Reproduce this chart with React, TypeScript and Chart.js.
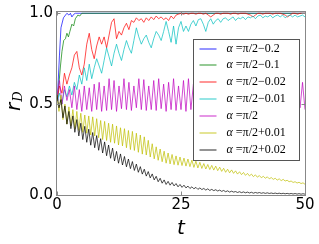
import { useEffect, useRef } from "react";
import { Chart, registerables } from "chart.js";
Chart.register(...registerables);

const T_HALF = [
  0, 0.5, 1, 1.5, 2, 2.5, 3, 3.5, 4, 4.5, 5, 5.5, 6, 6.5, 7, 7.5, 8, 8.5, 9, 9.5,
  10, 10.5, 11, 11.5, 12, 12.5, 13, 13.5, 14, 14.5, 15, 15.5, 16, 16.5, 17, 17.5, 18, 18.5, 19, 19.5,
  20, 20.5, 21, 21.5, 22, 22.5, 23, 23.5, 24, 24.5, 25, 25.5, 26, 26.5, 27, 27.5, 28, 28.5, 29, 29.5,
  30, 30.5, 31, 31.5, 32, 32.5, 33, 33.5, 34, 34.5, 35, 35.5, 36, 36.5, 37, 37.5, 38, 38.5, 39, 39.5,
  40, 40.5, 41, 41.5, 42, 42.5, 43, 43.5, 44, 44.5, 45, 45.5, 46, 46.5, 47, 47.5, 48, 48.5, 49, 49.5,
  50,
];

const T_FINE = [
  0, 0.4, 0.8, 1.2, 1.6, 2, 2.4, 2.8, 3.2, 3.6,
  4, 4.4, 4.8, 5.2, 5.6, 6, 6.4, 6.8, 7.2, 7.6,
  8, 8.4, 8.8, 9.2, 9.6, 10, 10.4, 10.8, 11.2, 11.6,
  12, 12.4, 12.8, 13.2, 13.6, 14, 14.4, 14.8, 15.2, 15.6,
  16, 16.4, 16.8, 17.2, 17.6, 18, 18.4, 18.8, 19.2, 19.6,
  20, 20.4, 20.8, 21.2, 21.6, 22, 22.4, 22.8, 23.2, 23.6,
  24, 24.4, 24.8, 25.2, 25.6, 26, 26.4, 26.8, 27.2, 27.6,
  28, 28.4, 28.8, 29.2, 29.6, 30, 30.4, 30.8, 31.2, 31.6,
  32, 32.4, 32.8, 33.2, 33.6, 34, 34.4, 34.8, 35.2, 35.6,
  36, 36.4, 36.8, 37.2, 37.6, 38, 38.4, 38.8, 39.2, 39.6,
  40, 40.4, 40.8, 41.2, 41.6, 42, 42.4, 42.8, 43.2, 43.6,
  44, 44.4, 44.8, 45.2, 45.6, 46, 46.4, 46.8, 47.2, 47.6,
  48, 48.4, 48.8, 49.2, 49.6, 50,
];

const BLUE_T = [0, 0.2, 0.5, 0.8, 1.3, 2.0, 2.4, 2.7, 3.0, 3.4, 3.7, 50];
const BLUE = [0.52, 0.6, 0.77, 0.92, 0.975, 1.0, 0.99, 1.0, 0.98, 0.995, 1.0, 1.0];

const GREEN_T = [0, 0.35, 0.7, 1.0, 1.35, 1.7, 2.0, 2.3, 2.6, 3.0, 3.35, 3.7, 4.2, 4.6, 5.0, 50];
const GREEN = [0.52, 0.6, 0.71, 0.79, 0.85, 0.86, 0.89, 0.87, 0.9, 0.94, 0.93, 0.97, 0.99, 0.985, 1.0, 1.0];

const RED = [
  0.52, 0.6, 0.56, 0.67, 0.61, 0.66, 0.7, 0.77, 0.79, 0.7,
  0.66, 0.72, 0.83, 0.89, 0.8, 0.75, 0.82, 0.87, 0.83, 0.87,
  0.81, 0.88, 0.95, 0.97, 0.86, 0.9, 0.88, 0.92, 0.945, 0.91,
  0.96, 0.95, 0.975, 0.96, 0.97, 0.95, 0.975, 0.96, 0.98, 0.965,
  0.985, 0.97, 0.98, 0.965, 0.975, 0.96, 0.985, 0.97, 0.99, 0.995,
  1.0, 0.995, 1.0, 0.995, 1.0, 1.0, 0.995, 1.0, 1.0, 0.995,
  1.0, 0.99, 0.98, 0.99, 1.0, 1.0, 0.995, 1.0, 1.0, 1.0,
  0.995, 1.0, 1.0, 0.995, 1.0, 1.0, 1.0, 0.995, 0.99, 0.98,
  0.99, 1.0, 1.0, 0.995, 1.0, 1.0, 1.0, 0.995, 1.0, 1.0,
  1.0, 0.995, 0.99, 0.98, 0.99, 1.0, 1.0, 0.995, 1.0, 1.0,
  1.0,
];

const CYAN = [
  0.52, 0.56, 0.5, 0.58, 0.54, 0.6, 0.55, 0.62, 0.58, 0.66,
  0.61, 0.7, 0.63, 0.72, 0.64, 0.7, 0.75, 0.71, 0.67, 0.74,
  0.81, 0.76, 0.71, 0.78, 0.83, 0.78, 0.74, 0.8, 0.85, 0.81,
  0.78, 0.85, 0.92, 0.87, 0.83, 0.86, 0.88, 0.84, 0.81, 0.86,
  0.9, 0.88, 0.85, 0.9, 0.955, 0.9, 0.84, 0.93, 0.83, 0.92,
  0.955, 0.9, 0.93, 0.9, 0.94, 0.96, 0.93, 0.965, 0.97, 0.94,
  0.9, 0.95, 0.97, 0.94, 0.96, 0.97, 0.95, 0.97, 0.975, 0.96,
  0.97, 0.98, 0.96, 0.975, 0.97, 0.98, 0.965, 0.98, 0.975, 0.985,
  0.97, 0.985, 0.99, 0.975, 0.985, 0.98, 0.99, 0.975, 0.985, 0.99,
  0.98, 0.99, 0.975, 0.985, 0.99, 0.98, 0.99, 0.98, 0.985, 0.99,
  0.98,
];

const MAGENTA = [
  0.55, 0.63, 0.5, 0.6, 0.52, 0.58, 0.48, 0.6, 0.47, 0.58,
  0.46, 0.6, 0.47, 0.59, 0.46, 0.61, 0.47, 0.62, 0.46, 0.6,
  0.465, 0.64, 0.47, 0.63, 0.46, 0.6, 0.475, 0.64, 0.47, 0.62,
  0.465, 0.6, 0.48, 0.64, 0.47, 0.635, 0.465, 0.6, 0.47, 0.63,
  0.465, 0.64, 0.475, 0.61, 0.46, 0.62, 0.47, 0.64, 0.465, 0.6,
  0.47, 0.63, 0.46, 0.64, 0.47, 0.61, 0.465, 0.62, 0.47, 0.64,
  0.465, 0.6, 0.475, 0.63, 0.46, 0.64, 0.47, 0.61, 0.465, 0.62,
  0.47, 0.64, 0.465, 0.6, 0.47, 0.63, 0.46, 0.64, 0.47, 0.61,
  0.465, 0.62, 0.47, 0.64, 0.465, 0.6, 0.475, 0.63, 0.46, 0.64,
  0.47, 0.61, 0.465, 0.62, 0.47, 0.64, 0.465, 0.6, 0.48, 0.62,
  0.47,
];

const YELLOW = [
  0.55, 0.46, 0.55, 0.415, 0.5, 0.39, 0.485, 0.38, 0.47, 0.365,
  0.46, 0.355, 0.45, 0.345, 0.44, 0.34, 0.435, 0.33, 0.43, 0.325,
  0.42, 0.315, 0.41, 0.305, 0.405, 0.3, 0.395, 0.29, 0.39, 0.285,
  0.38, 0.275, 0.37, 0.27, 0.365, 0.26, 0.355, 0.25, 0.35, 0.245,
  0.34, 0.235, 0.33, 0.225, 0.32, 0.22, 0.301, 0.209, 0.282, 0.199,
  0.265, 0.191, 0.253, 0.183, 0.241, 0.175, 0.231, 0.171, 0.223, 0.167,
  0.215, 0.164, 0.209, 0.162, 0.203, 0.159, 0.198, 0.156, 0.192, 0.152,
  0.186, 0.149, 0.18, 0.146, 0.173, 0.143, 0.168, 0.14, 0.163, 0.137,
  0.159, 0.134, 0.153, 0.13, 0.147, 0.125, 0.142, 0.122, 0.138, 0.119,
  0.133, 0.115, 0.128, 0.112, 0.124, 0.108, 0.119, 0.105, 0.115, 0.101,
  0.111, 0.098, 0.107, 0.095, 0.103, 0.092, 0.1, 0.089, 0.096, 0.086,
  0.092, 0.082, 0.089, 0.079, 0.086, 0.077, 0.081, 0.073, 0.077, 0.069,
  0.073, 0.066, 0.07, 0.063, 0.067, 0.059,
];

const BLACK = [
  0.55, 0.48, 0.525, 0.425, 0.49, 0.39, 0.46, 0.365, 0.435, 0.345,
  0.415, 0.325, 0.395, 0.305, 0.378, 0.29, 0.362, 0.274, 0.344, 0.26,
  0.327, 0.246, 0.31, 0.231, 0.292, 0.216, 0.275, 0.202, 0.258, 0.187,
  0.24, 0.175, 0.226, 0.165, 0.212, 0.155, 0.198, 0.145, 0.184, 0.135,
  0.17, 0.125, 0.156, 0.115, 0.142, 0.104, 0.129, 0.094, 0.116, 0.083,
  0.103, 0.073, 0.092, 0.065, 0.083, 0.058, 0.075, 0.054, 0.069, 0.05,
  0.063, 0.045, 0.058, 0.042, 0.054, 0.039, 0.049, 0.036, 0.045, 0.034,
  0.042, 0.031, 0.039, 0.03, 0.036, 0.027, 0.034, 0.025, 0.031, 0.024,
  0.029, 0.022, 0.027, 0.02, 0.025, 0.018, 0.023, 0.016, 0.021, 0.016,
  0.019, 0.014, 0.018, 0.013, 0.017, 0.012, 0.016, 0.011, 0.015, 0.01,
  0.014, 0.0105, 0.0135, 0.0095, 0.0125, 0.009, 0.012, 0.0085, 0.011, 0.008,
  0.0105, 0.0075, 0.01, 0.007, 0.0095, 0.0065, 0.009, 0.006, 0.0085, 0.0055,
  0.008, 0.005, 0.0075, 0.0045, 0.007, 0.0045,
];

const LABELS = [
  "α=π/2−0.2",
  "α=π/2−0.1",
  "α=π/2−0.02",
  "α=π/2−0.01",
  "α=π/2",
  "α=π/2+0.01",
  "α=π/2+0.02",
];
const COLORS = [
  "rgba(0,0,255,0.7)",
  "rgba(0,128,0,0.7)",
  "rgba(255,0,0,0.7)",
  "rgba(0,191,191,0.7)",
  "rgba(191,0,191,0.7)",
  "rgba(191,191,0,0.7)",
  "rgba(0,0,0,0.7)",
];
const X_TICKS = [0, 25, 50];
const Y_TICKS = [0, 0.5, 1.0];

function zip(t: number[], v: number[]) {
  return v.map((y, i) => ({ x: t[i], y }));
}

const framePlugin = {
  id: "frameTicks",
  afterDatasetsDraw(chart: any) {
    const { ctx, chartArea: a, scales } = chart;
    ctx.save();
    ctx.strokeStyle = "#888888";
    ctx.lineWidth = 1;
    const L = Math.round(a.left) - 0.5;
    const R = Math.round(a.right) + 0.5;
    const T = Math.round(a.top) - 0.5;
    const B = Math.round(a.bottom) + 0.5;
    ctx.strokeRect(L, T, R - L, B - T);
    ctx.beginPath();
    for (const v of X_TICKS) {
      const px = Math.round(scales.x.getPixelForValue(v)) + 0.5;
      ctx.moveTo(px, B);
      ctx.lineTo(px, B - 4);
      ctx.moveTo(px, T);
      ctx.lineTo(px, T + 4);
    }
    for (const v of Y_TICKS) {
      const py = Math.round(scales.y.getPixelForValue(v)) + 0.5;
      ctx.moveTo(L, py);
      ctx.lineTo(L + 4, py);
      ctx.moveTo(R, py);
      ctx.lineTo(R - 4, py);
    }
    ctx.stroke();
    ctx.restore();
  },
};

const legendPlugin = {
  id: "innerLegend",
  afterDraw(chart: any) {
    const { ctx, chartArea: a } = chart;
    const left = Math.round(a.right) - 112 + 0.5;
    const top = Math.round(a.top) + 27 + 0.5;
    const w = 106;
    const h = 121;
    ctx.save();
    ctx.fillStyle = "#ffffff";
    ctx.fillRect(left, top, w, h);
    ctx.strokeStyle = "#555555";
    ctx.lineWidth = 1;
    ctx.strokeRect(left, top, w, h);
    LABELS.forEach((lab, i) => {
      const y = Math.round(top + 9 + i * 16.9);
      ctx.strokeStyle = COLORS[i];
      ctx.lineWidth = 1.2;
      ctx.beginPath();
      ctx.moveTo(left + 6, y);
      ctx.lineTo(left + 23, y);
      ctx.stroke();
      ctx.fillStyle = "#000";
      ctx.textBaseline = "middle";
      ctx.textAlign = "left";
      ctx.font = "italic 12px 'Liberation Serif'";
      const a1 = "α";
      ctx.fillText(a1, left + 33, y);
      const wa = ctx.measureText(a1).width;
      ctx.font = "12px 'Liberation Serif'";
      ctx.fillText(" " + lab.slice(1), left + 33 + wa, y);
    });
    ctx.restore();
  },
};

const titlePlugin = {
  id: "axisTitles",
  afterDraw(chart: any) {
    const { ctx, chartArea: a } = chart;
    ctx.save();
    ctx.fillStyle = "#000";
    ctx.textAlign = "center";
    ctx.textBaseline = "alphabetic";
    ctx.font = "italic 20px 'DejaVu Sans'";
    ctx.fillText("t", (a.left + a.right) / 2, 234);
    ctx.translate(20, 111);
    ctx.rotate(-Math.PI / 2);
    ctx.textAlign = "left";
    ctx.font = "italic 20px 'DejaVu Sans'";
    ctx.fillText("r", 0, 0);
    const wr = ctx.measureText("r").width;
    ctx.font = "italic 13px 'DejaVu Serif'";
    ctx.fillText("D", wr + 1, 2);
    ctx.restore();
  },
};

export default function App() {
  const ref = useRef<HTMLCanvasElement | null>(null);
  useEffect(() => {
    if (!ref.current) return;
    const series = [
      zip(BLUE_T, BLUE),
      zip(GREEN_T, GREEN),
      zip(T_HALF, RED),
      zip(T_HALF, CYAN),
      zip(T_HALF, MAGENTA),
      zip(T_FINE, YELLOW),
      zip(T_FINE, BLACK),
    ];
    const chart = new Chart(ref.current, {
      type: "line",
      data: {
        datasets: series.map((d, i) => ({
          label: LABELS[i],
          data: d,
          borderColor: COLORS[i],
          borderWidth: 1,
          pointRadius: 0,
          tension: 0,
          fill: false,
          order: 7 - i,
        })),
      },
      options: {
        animation: false,
        responsive: false,
        parsing: false as any,
        layout: { padding: { left: 0, top: 12, right: 14, bottom: 0 } },
        plugins: { legend: { display: false }, tooltip: { enabled: false } },
        scales: {
          x: {
            type: "linear",
            min: 0,
            max: 50,
            grid: { display: false, drawTicks: false },
            border: { display: false },
            afterBuildTicks: (s: any) => {
              s.ticks = X_TICKS.map((v) => ({ value: v }));
            },
            afterFit: (s: any) => {
              s.height = 49;
              s.paddingLeft = 0;
              s.paddingRight = 0;
            },
            ticks: {
              autoSkip: false,
              maxRotation: 0,
              padding: 1,
              color: "#000",
              font: { family: "'DejaVu Sans'", size: 15 },
              callback: (v: any) => String(v),
            },
          },
          y: {
            type: "linear",
            min: 0,
            max: 1.007,
            grid: { display: false, drawTicks: false },
            border: { display: false },
            afterBuildTicks: (s: any) => {
              s.ticks = Y_TICKS.map((v) => ({ value: v }));
            },
            afterFit: (s: any) => {
              s.width = 57;
              s.paddingTop = 0;
              s.paddingBottom = 0;
            },
            ticks: {
              padding: 4,
              color: "#000",
              font: { family: "'DejaVu Sans'", size: 15 },
              callback: (v: any) => Number(v).toFixed(1),
            },
          },
        },
      },
      plugins: [framePlugin, legendPlugin, titlePlugin],
    });
    return () => chart.destroy();
  }, []);
  return (
    <div style={{ position: "absolute", left: 0, top: 0, width: 319, height: 244, background: "#fff" }}>
      <canvas ref={ref} width={319} height={244} style={{ display: "block" }} />
    </div>
  );
}
